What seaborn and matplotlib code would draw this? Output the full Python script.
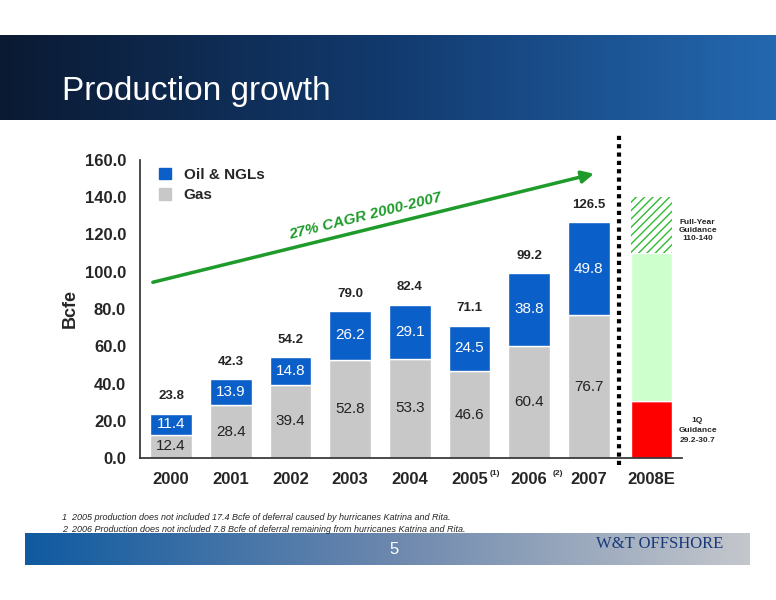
import numpy as np
import pandas as pd
import seaborn as sns
import matplotlib.pyplot as plt
from matplotlib.patches import Rectangle, FancyArrowPatch
from matplotlib.colors import LinearSegmentedColormap

years = ["2000", "2001", "2002", "2003", "2004", "2005", "2006", "2007"]
gas = [12.4, 28.4, 39.4, 52.8, 53.3, 46.6, 60.4, 76.7]
oil = [11.4, 13.9, 14.8, 26.2, 29.1, 24.5, 38.8, 49.8]
totals = [23.8, 42.3, 54.2, 79.0, 82.4, 71.1, 99.2, 126.5]
q1_guidance = 30.7
fy_low, fy_high = 110, 140

sns.set_theme(style="white")
plt.rcParams["font.family"] = ["Liberation Sans", "DejaVu Sans"]

fig = plt.figure(figsize=(7.76, 6), dpi=100)

# header band
hdr = fig.add_axes([0, 1 - 120 / 600, 1, 85 / 600])
grad = np.linspace(0, 1, 256).reshape(1, -1)
hdr.imshow(grad, aspect="auto", cmap=LinearSegmentedColormap.from_list("h", ["#0b1a33", "#123a6e", "#2468b0"]))
hdr.axis("off")
fig.text(62 / 776, 1 - 100 / 600, "Production growth", color="white", fontsize=24)

# footer band
ftr = fig.add_axes([25 / 776, 1 - 565 / 600, 725 / 776, 32 / 600])
ftr.imshow(grad, aspect="auto", cmap=LinearSegmentedColormap.from_list("f", ["#0f5aa0", "#6b87ad", "#c4c7cc"]))
ftr.axis("off")
fig.text(0.508, 1 - 549 / 600, "5", color="white", fontsize=12, ha="center", va="center")
fig.text(660 / 776, 1 - 544 / 600, "W&T OFFSHORE", color="#1a3a7a", fontsize=12,
         family=["Liberation Serif"], ha="center", va="center")

ax = fig.add_axes([140 / 776, 1 - 458 / 600, 542 / 776, 298 / 600])
x = np.arange(len(years))
df = pd.DataFrame({"year": x, "gas": gas, "oil": oil, "total": totals})
w = 0.7
ax.bar(df.year, df.gas, width=w, color="#c8c8c8")
ax.bar(df.year, df.oil, bottom=df.gas, width=w, color="#0b5fc8")
for xi, g, o, t in zip(x, gas, oil, totals):
    ax.text(xi, g / 2, f"{g:.1f}", ha="center", va="center", fontsize=11, color="#222222")
    ax.text(xi, g + o / 2, f"{o:.1f}", ha="center", va="center", fontsize=11, color="white")
    ax.text(xi, t + 6, f"{t:.1f}", ha="center", va="bottom", fontsize=9.5, fontweight="bold")

# 2008E guidance bar
xe = 8.05
ax.bar(xe, q1_guidance, width=w, color="#ff0000")
ax.bar(xe, fy_low - q1_guidance, bottom=q1_guidance, width=w, color="#ccffcc")
ax.bar(xe, fy_high - fy_low, bottom=fy_low, width=w, color="white", edgecolor="#33bb33",
       hatch="////", linewidth=0)
ax.text(8.82, 122, "Full-Year\nGuidance\n110-140", fontsize=6, fontweight="bold", ha="center", va="center")
ax.text(8.82, 15, "1Q\nGuidance\n29.2-30.7", fontsize=6, fontweight="bold", ha="center", va="center",
        linespacing=1.6)

ax.set_xlim(-0.52, 8.56)
ax.set_ylim(0, 160)
ax.set_xticks(list(x) + [xe])
ax.set_xticklabels(years + ["2008E"], fontsize=12, fontweight="bold")
ax.set_yticks(np.arange(0, 161, 20))
ax.set_yticklabels([f"{v:.1f}" for v in np.arange(0, 161, 20)], fontsize=12, fontweight="bold")
ax.set_ylabel("Bcfe", fontsize=13, fontweight="bold", labelpad=4)
for s in ["top", "right"]:
    ax.spines[s].set_visible(False)
for s in ["left", "bottom"]:
    ax.spines[s].set_color("#333333")
ax.tick_params(axis="x", length=0, pad=10)
ax.tick_params(axis="y", length=0, pad=10)
ax.text(5.33, -9, "(1)", fontsize=6, fontweight="bold")
ax.text(6.4, -9, "(2)", fontsize=6, fontweight="bold")

# separator
ax.plot([7.5, 7.5], [-4, 174], ls=(0, (1, 1)), lw=3, color="black", clip_on=False)

# CAGR arrow
ax.add_patch(FancyArrowPatch((-0.35, 94), (7.13, 153), arrowstyle="-|>", mutation_scale=18,
                             color="#1e9b2a", lw=2.5, clip_on=False))
ax.text(3.25, 130, "27% CAGR 2000-2007", rotation=14, fontsize=11, fontweight="bold",
        fontstyle="italic", color="#1e9b2a", ha="center", va="center")

# legend
handles = [Rectangle((0, 0), 1, 1, color="#0b5fc8"), Rectangle((0, 0), 1, 1, color="#c8c8c8")]
ax.legend(handles, ["Oil & NGLs", "Gas"], loc="upper left", bbox_to_anchor=(0.01, 1.02), frameon=False,
          prop={"weight": "bold", "size": 11}, handlelength=0.8, handleheight=0.8, labelspacing=0.4)

fig.text(62 / 776, 1 - 517 / 600, "1  2005 production does not included 17.4 Bcfe of deferral caused by hurricanes Katrina and Rita.",
         fontsize=6.5, fontstyle="italic", va="center")
fig.text(62 / 776, 1 - 529 / 600, "2  2006 Production does not included 7.8 Bcfe of deferral remaining from hurricanes Katrina and Rita.",
         fontsize=6.5, fontstyle="italic", va="center")

fig.savefig("out.png", dpi=100)
